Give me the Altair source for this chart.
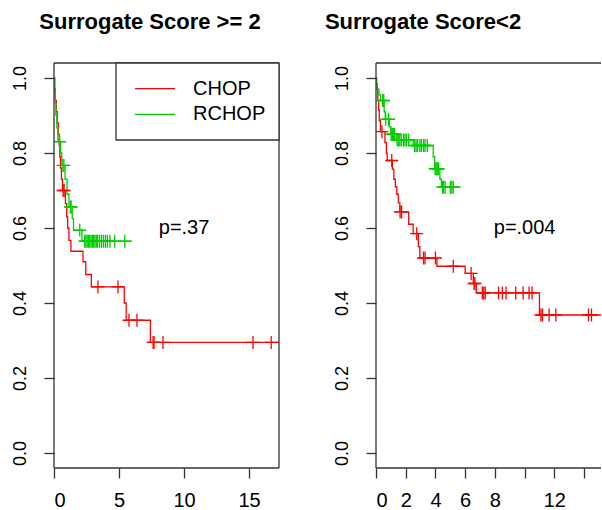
import altair as alt
import pandas as pd

# ---------------- data ----------------
# Left panel: Surrogate Score >= 2
L_chop_t = [0, 0.05, 0.1, 0.18, 0.25, 0.33, 0.4, 0.45, 0.5, 0.57, 0.65, 0.88, 0.98, 1.05,
            1.15, 1.3, 2.23, 2.44, 2.87, 5.4, 5.55, 7.41, 17.3]
L_chop_s = [1.0, 0.97, 0.94, 0.91, 0.88, 0.85, 0.82, 0.79, 0.76, 0.73, 0.70, 0.665, 0.63, 0.60,
            0.567, 0.538, 0.51, 0.476, 0.443, 0.40, 0.354, 0.295, 0.295]
L_chop_cens = [0.7, 0.78, 3.38, 4.92, 5.77, 6.38, 7.62, 7.69, 8.38, 15.3, 16.7]

L_rchop_t = [0, 0.05, 0.1, 0.15, 0.22, 0.3, 0.5, 0.6, 0.85, 1.0, 1.15, 1.4, 1.5, 2.15, 6.0]
L_rchop_s = [1.0, 0.967, 0.933, 0.90, 0.867, 0.83, 0.80, 0.767, 0.73, 0.69, 0.656, 0.625,
             0.594, 0.565, 0.565]
L_rchop_cens = [0.44, 0.69, 0.76, 1.26, 1.32, 1.98, 2.36, 2.45, 2.55, 2.65, 2.75, 2.85, 2.95,
                3.05, 3.15, 3.25, 3.35, 3.5, 3.65, 3.8, 3.95, 4.1, 4.3, 4.67, 5.44]

# Right panel: Surrogate Score < 2
R_chop_t = [0, 0.02, 0.08, 0.12, 0.18, 0.22, 0.3, 0.6, 0.7, 0.75, 1.1, 1.2, 1.3, 1.4, 1.5,
            1.6, 2.2, 2.5, 2.85, 2.95, 4.1, 6.0, 6.55, 6.75, 11.0, 15.2]
R_chop_s = [1.0, 0.985, 0.97, 0.94, 0.914, 0.886, 0.857, 0.828, 0.80, 0.78, 0.757, 0.73, 0.71,
            0.69, 0.667, 0.643, 0.61, 0.585, 0.55, 0.52, 0.498, 0.479, 0.452, 0.427, 0.368, 0.368]
R_chop_cens = [0.4, 1.06, 1.62, 1.72, 2.74, 3.2, 3.3, 4.0, 5.2, 6.4, 6.6, 6.65, 7.15, 7.25,
               7.35, 8.25, 8.5, 8.75, 9.4, 9.9, 10.3, 10.5, 11.1, 11.2, 11.65, 12.1, 14.3, 14.5]

R_rchop_t = [0, 0.05, 0.2, 0.3, 0.55, 0.62, 0.9, 1.0, 1.35, 2.5, 3.85, 3.95, 4.3, 4.4, 5.7]
R_rchop_s = [1.0, 0.97, 0.955, 0.94, 0.91, 0.89, 0.87, 0.85, 0.835, 0.82, 0.79, 0.758, 0.73,
             0.709, 0.709]
R_rchop_cens = [0.45, 0.52, 0.65, 0.85, 1.02, 1.1, 1.18, 1.25, 1.42, 1.5, 1.6, 1.7, 1.85, 1.95,
                2.05, 2.2, 2.6, 2.7, 2.8, 2.95, 3.05, 3.2, 3.3, 3.45, 3.98, 4.05, 4.12, 4.2,
                4.48, 4.55, 4.65, 5.0, 5.1, 5.2]

groups = ["CHOP", "RCHOP"]
colors = ["#FF0000", "#00CD00"]
titles = ["Surrogate Score >= 2", "Surrogate Score<2"]
p_labels = ["p=.37", "p=.004"]
p_pos = [10, 0.6]
L_xticks = [0, 5, 10, 15]
R_xticks = [0, 2, 4, 6, 8, 10, 12, 14]
y_ticks = [0.0, 0.2, 0.4, 0.6, 0.8, 1.0]

FONT = "Liberation Sans"
W_L, W_R, H = 225, 225, 405
FRAME = "#333333"
FW = 1.3


def surv_at(ts, ss, x):
    v = ss[0]
    for t, s in zip(ts, ss):
        if t <= x:
            v = s
    return v


def frames(c_t, c_s, c_c, r_t, r_s, r_c):
    curves = pd.concat([
        pd.DataFrame({"t": c_t, "s": c_s, "grp": groups[0]}),
        pd.DataFrame({"t": r_t, "s": r_s, "grp": groups[1]}),
    ])
    cens = pd.concat([
        pd.DataFrame({"t": c_c, "s": [surv_at(c_t, c_s, x) for x in c_c], "grp": groups[0]}),
        pd.DataFrame({"t": r_c, "s": [surv_at(r_t, r_s, x) for x in r_c], "grp": groups[1]}),
    ])
    return curves, cens


color = alt.Color("grp:N", scale=alt.Scale(domain=groups, range=colors), legend=None)
PLUS = "M-1,0L1,0M0,-1L0,1"


def panel(curves, cens, xmax, width, xticks, label_expr, ptxt, title, title_x, legend, box_right):
    x = alt.X("t:Q", scale=alt.Scale(domain=[0, xmax], nice=False, zero=False),
              axis=alt.Axis(values=xticks, labelExpr=label_expr, title=None))
    y = alt.Y("s:Q", scale=alt.Scale(domain=[-0.04, 1.04], nice=False, zero=False),
              axis=alt.Axis(values=y_ticks, format=".1f", title=None, labelAngle=270,
                            labelAlign="center", labelBaseline="alphabetic",
                            labelPadding=19, labelFontSize=18))
    lines = alt.Chart(curves).mark_line(interpolate="step-after", strokeWidth=1.3, clip=True).encode(
        x=x, y=y, color=color, order=alt.Order("t:Q"))
    marks = alt.Chart(cens).mark_point(shape=PLUS, size=169, filled=False, strokeWidth=1.3,
                                       opacity=1, clip=True).encode(x=x, y=y, color=color)
    ptext = alt.Chart(pd.DataFrame({"t": [p_pos[0]], "s": [p_pos[1]], "lab": [ptxt]})).mark_text(
        font=FONT, fontSize=20, align="center", baseline="middle", color="black").encode(
        x=x, y=y, text="lab:N")
    layers = [lines, marks, ptext]
    base = alt.Chart(pd.DataFrame({"k": [0]}))
    # panel title
    layers.append(base.mark_text(font=FONT, fontSize=22, fontWeight="bold", align="center",
                                 baseline="alphabetic", color="black", text=title).encode(
        x=alt.value(title_x), y=alt.value(-34.5)))
    # frame of the panel
    layers.append(base.mark_rule(color=FRAME, strokeWidth=FW).encode(
        x=alt.value(0), x2=alt.value(width), y=alt.value(0)))
    layers.append(base.mark_rule(color=FRAME, strokeWidth=FW).encode(
        x=alt.value(0), x2=alt.value(width), y=alt.value(H)))
    layers.append(base.mark_rule(color=FRAME, strokeWidth=FW).encode(
        x=alt.value(0), y=alt.value(0), y2=alt.value(H)))
    if box_right:
        layers.append(base.mark_rule(color=FRAME, strokeWidth=FW).encode(
            x=alt.value(width), y=alt.value(0), y2=alt.value(H)))
    if legend:
        layers.append(base.mark_rect(fill="white", stroke=FRAME, strokeWidth=FW).encode(
            x=alt.value(62), x2=alt.value(width), y=alt.value(0), y2=alt.value(77)))
        for g, c, yy in zip(groups, colors, [25.6, 51.3]):
            layers.append(base.mark_rule(strokeWidth=1.3, color=c).encode(
                x=alt.value(81), x2=alt.value(121), y=alt.value(yy)))
            layers.append(base.mark_text(font=FONT, fontSize=20, align="left",
                                         baseline="middle", color="black", text=g).encode(
                x=alt.value(139), y=alt.value(yy)))
    return alt.layer(*layers).properties(width=width, height=H)


lc, lcen = frames(L_chop_t, L_chop_s, L_chop_cens, L_rchop_t, L_rchop_s, L_rchop_cens)
rc, rcen = frames(R_chop_t, R_chop_s, R_chop_cens, R_rchop_t, R_rchop_s, R_rchop_cens)

left = panel(lc, lcen, 17.3, W_L, L_xticks, "datum.label", p_labels[0], titles[0], 96,
             True, True)
right = panel(rc, rcen, 15.14, W_R, R_xticks,
              "(datum.value == 10 || datum.value == 14) ? '' : datum.label",
              p_labels[1], titles[1], 47, False, False)

chart = alt.hconcat(left, right, spacing=97, bounds="flush").properties(
    padding={"left": 10, "top": 10, "right": 0, "bottom": 0},
    background="white"
).configure_view(stroke=None).configure_axis(
    domain=False, grid=False, tickSize=10, tickColor=FRAME, tickWidth=FW,
    labelColor="black", labelFont=FONT, labelFontSize=20, labelPadding=12
)

chart.save("out.html", embed_options={"renderer": "svg", "actions": False})
